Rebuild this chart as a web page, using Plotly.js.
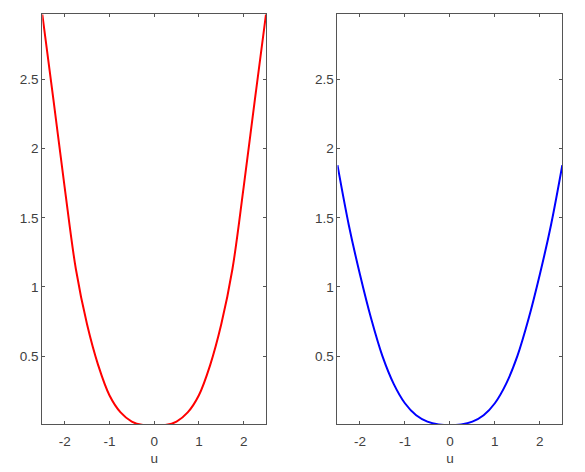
<!DOCTYPE html>
<html>
<head>
<meta charset="utf-8">
<script src="https://cdn.plot.ly/plotly-3.0.1.min.js"></script>
<style>html,body{margin:0;padding:0;background:#fff;}#chart{width:585px;height:472px;}</style>
</head>
<body>
<div id="chart"></div>
<script>
// Left panel (red) values
const uLeft = [-2.5, -2.25, -2.0, -1.75, -1.5, -1.25, -1.0, -0.75, -0.5, -0.25, 0, 0.25, 0.5, 0.75, 1.0, 1.25, 1.5, 1.75, 2.0, 2.25, 2.5];
const fLeft = [2.97, 2.35, 1.72, 1.13, 0.73, 0.434, 0.218, 0.094, 0.028, 0.0035, 0, 0.0035, 0.028, 0.094, 0.218, 0.434, 0.73, 1.13, 1.72, 2.35, 2.97];

// Right panel (blue) values
const uRight = [-2.5, -2.25, -2.0, -1.75, -1.5, -1.25, -1.0, -0.75, -0.5, -0.25, 0, 0.25, 0.5, 0.75, 1.0, 1.25, 1.5, 1.75, 2.0, 2.25, 2.5];
const fRight = [1.88, 1.45, 1.09, 0.77, 0.5, 0.30, 0.16, 0.073, 0.027, 0.006, 0, 0.006, 0.027, 0.073, 0.16, 0.30, 0.5, 0.77, 1.09, 1.45, 1.88];

const xTicks = [-2, -1, 0, 1, 2];
const xTickText = ['-2', '-1', '0', '1', '2'];
const yTicks = [0.5, 1, 1.5, 2, 2.5];
const yTickText = ['0.5', '1', '1.5', '2', '2.5'];
const xLabel = 'u';

const tickFont = {family: 'Liberation Sans, Arial, sans-serif', size: 13.5, color: '#404040'};
const axisColor = '#555';

// label-carrying x axes (transparent outside ticks push labels down)
function xLabelAxis(domain, anchor) {
  return {
    domain: domain, anchor: anchor, range: [-2.5, 2.5], tickmode: 'array', tickvals: xTicks, ticktext: xTickText,
    ticks: 'outside', ticklen: 5, tickcolor: 'rgba(0,0,0,0)', showline: false,
    showgrid: false, zeroline: false, tickfont: tickFont,
    title: {text: xLabel, font: tickFont, standoff: 5}
  };
}
// frame + inside ticks
function xTickAxis(over, anchor) {
  return {
    overlaying: over, anchor: anchor, range: [-2.5, 2.5], tickmode: 'array', tickvals: xTicks,
    ticks: 'inside', ticklen: 3, tickcolor: axisColor, showline: true, linecolor: axisColor, linewidth: 1,
    mirror: 'ticks', showgrid: false, zeroline: false, showticklabels: false
  };
}
function yax(anchor) {
  return {
    domain: [0.1011, 0.9697], range: [0.008, 2.97], tickmode: 'array', tickvals: yTicks, ticktext: yTickText,
    ticks: 'inside', ticklen: 3, tickcolor: axisColor, showline: true, linecolor: axisColor, linewidth: 1,
    mirror: 'ticks', showgrid: false, zeroline: false, tickfont: tickFont, anchor: anchor
  };
}

const traces = [
  {x: uLeft, y: fLeft, type: 'scatter', mode: 'lines', line: {color: '#ff0000', width: 2, shape: 'spline', smoothing: 1}, xaxis: 'x', yaxis: 'y', hoverinfo: 'skip'},
  {x: uRight, y: fRight, type: 'scatter', mode: 'lines', line: {color: '#0000ff', width: 2, shape: 'spline', smoothing: 1}, xaxis: 'x2', yaxis: 'y2', hoverinfo: 'skip'},
  {x: [], y: [], type: 'scatter', mode: 'lines', xaxis: 'x3', yaxis: 'y', hoverinfo: 'skip'},
  {x: [], y: [], type: 'scatter', mode: 'lines', xaxis: 'x4', yaxis: 'y2', hoverinfo: 'skip'}
];

const layout = {
  width: 585, height: 472, margin: {l: 0, r: 0, t: 0, b: 0},
  paper_bgcolor: '#ffffff', plot_bgcolor: '#ffffff', showlegend: false,
  xaxis: xLabelAxis([0.0723, 0.4547], 'y'),
  yaxis: yax('x'),
  xaxis2: xLabelAxis([0.5769, 0.9612], 'y2'),
  yaxis2: yax('x2'),
  xaxis3: xTickAxis('x', 'y'),
  xaxis4: xTickAxis('x2', 'y2')
};

Plotly.newPlot('chart', traces, layout, {staticPlot: true, displayModeBar: false});
</script>
</body>
</html>
